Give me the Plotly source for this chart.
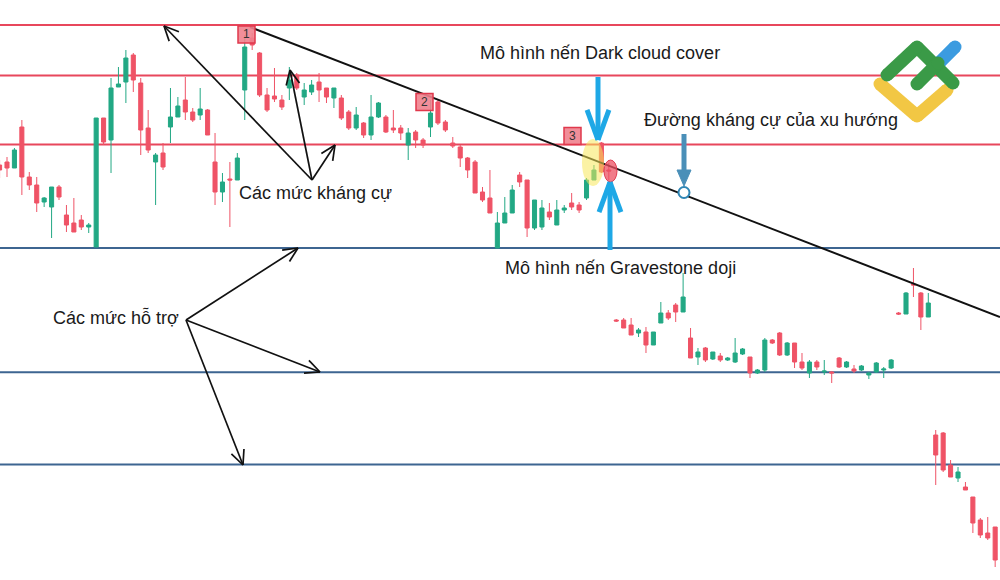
import math
import plotly.graph_objects as go

# ---------------- data ----------------
X = list(range(-1, 134))  # candle index

OPEN = [43.5, 43.8, 43.2, 47.3, 42.3, 41.5, 39.8, 39.3, 41.3, 38.5,
        37.7, 38.0, 37.3, 35.3, 48.2, 46.0, 51.3, 51.8, 54.5, 51.7,
        47.2, 43.8, 44.7, 47.3, 48.3, 50.0, 48.8, 48.5, 49.0, 43.8,
        40.8, 42.1, 42.0, 51.0, 56.2, 54.7, 50.5, 50.4, 50.0, 51.2,
        52.5, 50.3, 50.8, 51.8, 51.2, 50.2, 50.2, 48.8, 47.2, 47.7,
        46.5, 48.3, 48.3, 47.2, 47.2, 45.5, 46.8, 46.0, 47.3, 49.8,
        47.8, 45.7, 45.3, 44.2, 43.8, 40.8, 40.2, 35.2, 37.7, 38.7,
        42.5, 42.0, 37.2, 37.3, 38.8, 37.5, 39.0, 39.7, 39.5, 40.2,
        42.0, 45.7, 43.0, 28.0, 28.0, 27.5, 26.7, 26.8, 25.5, 27.7,
        28.7, 29.5, 28.8, 26.2, 24.3, 25.2, 24.1, 24.4, 24.0, 23.8,
        24.6, 24.3, 22.7, 23.0, 26.0, 26.7, 24.5, 25.7, 23.8, 22.7,
        23.8, 22.8, 22.8, 24.2, 23.3, 23.1, 23.0, 22.5, 22.8, 23.0,
        23.2, 28.7, 28.6, 31.6, 30.7, 28.3, 16.5, 16.7, 13.5, 12.2,
        11.3, 10.3, 8.0, 6.7, 7.3]
HIGH = [44.0, 44.3, 45.2, 48.0, 42.8, 42.3, 40.3, 41.3, 41.5, 39.5,
        40.2, 38.5, 37.7, 48.2, 48.2, 52.2, 53.3, 55.0, 54.7, 52.2,
        49.0, 44.7, 45.7, 51.2, 50.3, 52.3, 49.2, 51.2, 49.1, 46.7,
        42.7, 43.8, 44.7, 56.5, 56.7, 54.8, 51.2, 53.2, 50.5, 53.3,
        52.7, 51.7, 52.0, 52.7, 51.2, 51.2, 50.5, 49.0, 49.3, 47.8,
        50.5, 49.8, 48.5, 49.0, 47.5, 47.2, 47.0, 46.2, 50.0, 50.0,
        48.0, 46.3, 45.5, 44.3, 44.0, 41.3, 43.0, 38.8, 40.3, 41.5,
        42.8, 42.0, 40.0, 40.0, 39.7, 40.0, 39.5, 40.7, 39.8, 42.2,
        43.5, 45.8, 43.7, 28.1, 28.2, 28.2, 27.2, 27.3, 26.8, 29.8,
        29.0, 29.7, 32.7, 27.2, 25.2, 25.3, 24.8, 24.7, 24.3, 26.2,
        25.2, 24.3, 23.1, 26.2, 26.1, 26.8, 25.8, 25.7, 24.7, 24.0,
        24.0, 24.0, 22.9, 24.3, 23.9, 23.5, 23.5, 22.8, 23.8, 23.3,
        24.1, 28.8, 30.8, 33.2, 30.8, 30.7, 17.0, 16.8, 14.0, 13.3,
        11.8, 10.3, 8.2, 8.3, 7.3]
LOW = [42.2, 42.3, 43.2, 40.5, 41.0, 38.8, 39.3, 36.2, 40.0, 36.8,
       36.8, 37.0, 36.7, 35.3, 45.5, 42.7, 51.3, 49.7, 50.8, 44.5,
       44.7, 39.5, 43.0, 45.7, 48.3, 48.0, 47.8, 48.0, 46.5, 39.5,
       39.8, 37.3, 42.0, 48.0, 55.0, 50.3, 48.8, 49.8, 49.0, 50.0,
       51.0, 49.5, 50.5, 49.8, 49.7, 49.2, 48.0, 47.0, 47.0, 46.2,
       46.0, 48.2, 46.7, 46.7, 46.0, 44.0, 45.2, 45.2, 46.3, 47.5,
       46.8, 45.2, 43.3, 42.2, 40.7, 39.8, 38.7, 35.2, 37.7, 38.7,
       41.3, 36.3, 37.0, 37.0, 38.0, 37.5, 38.7, 39.0, 38.7, 40.0,
       42.0, 42.7, 42.0, 27.8, 27.2, 26.5, 26.3, 24.7, 25.5, 27.7,
       28.0, 27.8, 28.8, 24.2, 23.5, 23.8, 24.0, 23.8, 23.9, 23.7,
       24.5, 22.2, 22.6, 22.8, 25.6, 24.4, 24.4, 23.2, 23.0, 22.2,
       23.0, 22.5, 21.7, 23.2, 23.2, 22.7, 22.9, 22.1, 22.7, 22.2,
       23.1, 28.5, 28.6, 30.3, 27.0, 28.3, 11.5, 12.8, 12.3, 11.8,
       11.0, 6.7, 6.2, 6.0, 3.3]
CLOSE = [43.0, 43.2, 45.0, 42.3, 41.5, 39.7, 40.2, 41.3, 40.3, 37.5,
         36.8, 37.3, 37.5, 48.2, 45.8, 51.2, 51.6, 54.2, 52.0, 47.0,
         45.0, 44.5, 43.3, 48.3, 49.4, 48.8, 48.0, 49.1, 46.5, 40.8,
         41.8, 42.0, 44.2, 55.3, 55.5, 50.5, 49.0, 50.1, 49.3, 52.0,
         51.2, 51.0, 51.5, 51.0, 50.3, 51.2, 48.2, 47.2, 48.5, 46.5,
         48.3, 49.7, 46.8, 47.0, 46.7, 46.7, 46.0, 45.5, 48.7, 47.7,
         47.0, 45.4, 44.2, 43.0, 40.7, 40.0, 38.7, 37.7, 38.7, 41.0,
         41.8, 37.2, 40.0, 39.2, 38.3, 39.0, 39.2, 39.3, 39.0, 42.0,
         43.0, 42.8, 42.9, 27.9, 27.2, 26.5, 27.0, 25.5, 26.8, 28.7,
         28.2, 28.8, 30.3, 24.2, 24.8, 24.0, 24.8, 24.0, 24.2, 24.7,
         25.1, 22.7, 23.0, 26.0, 25.7, 24.5, 25.7, 23.8, 23.2, 23.8,
         23.3, 22.9, 22.7, 23.3, 23.8, 22.9, 23.4, 22.7, 23.7, 23.1,
         24.0, 28.6, 30.7, 31.5, 28.3, 29.7, 14.5, 13.0, 12.3, 12.8,
         11.0, 7.7, 6.5, 6.2, 4.0]

RESISTANCE = [57.5, 52.45, 45.55]
SUPPORT = [35.2, 22.77, 13.55]
TREND_X = [32.7, 133.65]
TREND_Y = [57.3, 28.3]

LABEL_DARK = "Mô hình nến Dark cloud cover"
LABEL_TREND = "Đường kháng cự của xu hướng"
LABEL_DOJI = "Mô hình nến Gravestone doji"
LABEL_RES = "Các mức kháng cự"
LABEL_SUP = "Các mức hỗ trợ"

# ---------------- figure ----------------
W, H = 1000, 580
X_RANGE = [-0.942, 133.65]
Y_RANGE = [2, 60]

GREEN = "#22a884"
RED = "#ef5366"
RED_LINE = "#e8475c"
BLUE_LINE = "#3d6591"


def px(x, y):
    """pixel -> paper"""
    return x / W, 1 - y / H


fig = go.Figure()

fig.add_trace(go.Candlestick(
    x=X, open=OPEN, high=HIGH, low=LOW, close=CLOSE,
    increasing=dict(line=dict(color=GREEN, width=1), fillcolor=GREEN),
    decreasing=dict(line=dict(color=RED, width=1), fillcolor=RED),
    whiskerwidth=0, showlegend=False, hoverinfo="skip",
))

shapes = []
for lv in RESISTANCE:
    shapes.append(dict(type="line", xref="paper", yref="y", x0=0, x1=1, y0=lv, y1=lv,
                       line=dict(color=RED_LINE, width=2), layer="below"))
for lv in SUPPORT:
    shapes.append(dict(type="line", xref="paper", yref="y", x0=0, x1=1, y0=lv, y1=lv,
                       line=dict(color=BLUE_LINE, width=2), layer="below"))

fig.add_trace(go.Scatter(x=TREND_X, y=TREND_Y, mode="lines",
                         line=dict(color="#111111", width=2),
                         showlegend=False, hoverinfo="skip", cliponaxis=True))


def pline(x0, y0, x1, y1, color, width):
    a = px(x0, y0)
    b = px(x1, y1)
    shapes.append(dict(type="line", xref="paper", yref="paper",
                       x0=a[0], y0=a[1], x1=b[0], y1=b[1],
                       line=dict(color=color, width=width)))


def arrow(tail, tip, color, width, L, ang):
    pline(tail[0], tail[1], tip[0], tip[1], color, width)
    dx, dy = tip[0] - tail[0], tip[1] - tail[1]
    n = math.hypot(dx, dy)
    ux, uy = dx / n, dy / n
    for s in (1, -1):
        a = math.radians(ang) * s
        rx = ux * math.cos(a) - uy * math.sin(a)
        ry = ux * math.sin(a) + uy * math.cos(a)
        pline(tip[0], tip[1], tip[0] - L * rx, tip[1] - L * ry, color, width)


# black annotation arrows
for tip in [(164, 26), (290, 70), (335, 145)]:
    arrow((312, 180), tip, "#111111", 1.7, 16, 25)
for tip in [(298, 248), (320, 372), (243, 465)]:
    arrow((186, 320), tip, "#111111", 1.7, 16, 25)

# highlights
a, b = px(582, 139), px(604, 186)
shapes.append(dict(type="circle", xref="paper", yref="paper", x0=a[0], y0=a[1], x1=b[0], y1=b[1],
                   fillcolor="rgba(248,232,90,0.55)", line=dict(width=0)))
a, b = px(604, 160), px(617, 182)
shapes.append(dict(type="circle", xref="paper", yref="paper", x0=a[0], y0=a[1], x1=b[0], y1=b[1],
                   fillcolor="rgba(236,80,98,0.75)", line=dict(color="#e03c50", width=1)))

# light blue arrows
CYAN = "#1ea8e6"
arrow((598, 77), (598, 140), CYAN, 5, 32, 20)
arrow((610, 250), (610, 182), CYAN, 5, 32, 20)

# steel arrow with filled head + circle
STEEL = "#4a8fb8"
pline(684, 134, 684, 172, STEEL, 5)
p1, p2, p3 = px(677, 170), px(691, 170), px(684, 186)
shapes.append(dict(type="path", xref="paper", yref="paper",
                   path=f"M {p1[0]} {p1[1]} L {p2[0]} {p2[1]} L {p3[0]} {p3[1]} Z",
                   fillcolor=STEEL, line=dict(color=STEEL, width=1)))
a, b = px(678.5, 187), px(689.5, 198)
shapes.append(dict(type="circle", xref="paper", yref="paper", x0=a[0], y0=a[1], x1=b[0], y1=b[1],
                   fillcolor="white", line=dict(color="#2f86b5", width=2)))

# numbered boxes
annotations = []
for label, (cx, cy) in [("1", (246.5, 34.5)), ("2", (424.5, 102)), ("3", (572.5, 136))]:
    a, b = px(cx - 8.5, cy - 8.5), px(cx + 8.5, cy + 8.5)
    shapes.append(dict(type="rect", xref="paper", yref="paper", x0=a[0], y0=a[1], x1=b[0], y1=b[1],
                       fillcolor="rgba(240,130,142,0.9)", line=dict(color="#e0384c", width=1.5)))
    c = px(cx, cy)
    annotations.append(dict(text=label, x=c[0], y=c[1], xref="paper", yref="paper",
                            xanchor="center", yanchor="middle",
                            showarrow=False, font=dict(size=12, color="#333333",
                                                       family="Liberation Sans")))

# logo
def stroke(points, color, width=13):
    for i in range(len(points) - 1):
        pline(points[i][0], points[i][1], points[i + 1][0], points[i + 1][1], color, width)
    for (x, y) in points:
        a, b = px(x - width / 2, y - width / 2), px(x + width / 2, y + width / 2)
        shapes.append(dict(type="circle", xref="paper", yref="paper", x0=a[0], y0=a[1],
                           x1=b[0], y1=b[1], fillcolor=color, line=dict(width=0)))


stroke([(880, 84), (917, 116), (947, 90)], "#f2c744")
stroke([(940, 62), (955, 47)], "#3b9be0")
stroke([(887, 75), (917, 47), (953, 83)], "#3a9a47")
stroke([(917, 84), (938, 63)], "#3a9a47")

# text labels
for text, (cx, cy) in [(LABEL_DARK, (600, 53)), (LABEL_TREND, (771, 120)),
                       (LABEL_DOJI, (620, 268)), (LABEL_RES, (315, 193)),
                       (LABEL_SUP, (116, 317))]:
    c = px(cx, cy)
    annotations.append(dict(text=text, x=c[0], y=c[1], xref="paper", yref="paper",
                            showarrow=False, xanchor="center", yanchor="middle",
                            font=dict(size=18, color="#1a1a1a", family="Liberation Sans")))

fig.update_layout(
    width=W, height=H,
    margin=dict(l=0, r=0, t=0, b=0),
    paper_bgcolor="white", plot_bgcolor="white",
    boxgap=0.22,
    xaxis=dict(range=X_RANGE, visible=False, rangeslider=dict(visible=False),
               showgrid=False, zeroline=False, fixedrange=True),
    yaxis=dict(range=Y_RANGE, visible=False, showgrid=False, zeroline=False, fixedrange=True),
    shapes=shapes, annotations=annotations, showlegend=False,
)

fig.write_html("out.html", config=dict(displayModeBar=False),
               post_script="document.body.style.margin='0';")
